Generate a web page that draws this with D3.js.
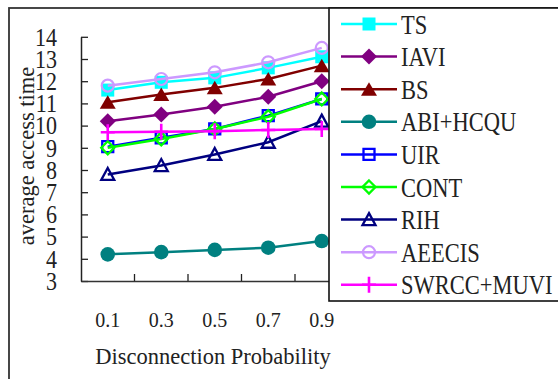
<!DOCTYPE html>
<html>
<head>
<meta charset="utf-8">
<script src="https://cdn.jsdelivr.net/npm/d3@7"></script>
<style>
  body { margin: 0; background: #fff; }
  svg { display: block; }
</style>
</head>
<body>
<svg id="chart" width="558" height="379"></svg>
<script>
// data
const categories = ["0.1", "0.3", "0.5", "0.7", "0.9"];
const yTicks = [3, 4, 5, 6, 7, 8, 9, 10, 11, 12, 13, 14];

const ts     = [11.6, 11.95, 12.15, 12.6, 13.1];
const iavi   = [10.2, 10.5, 10.85, 11.3, 12.0];
const bs     = [11.05, 11.4, 11.7, 12.1, 12.7];
const abi    = [4.2, 4.3, 4.4, 4.5, 4.8];
const uir    = [9.05, 9.45, 9.85, 10.45, 11.2];
const cont   = [9.0, 9.4, 9.85, 10.4, 11.2];
const rih    = [7.8, 8.2, 8.7, 9.25, 10.2];
const aeecis = [11.8, 12.1, 12.4, 12.85, 13.5];
const swrcc  = [9.7, 9.72, 9.75, 9.8, 9.85];

const series = [
  { name: "TS",         values: ts,     color: "#00FFFF", marker: "square",   fill: true },
  { name: "IAVI",       values: iavi,   color: "#800080", marker: "diamond",  fill: true },
  { name: "BS",         values: bs,     color: "#800000", marker: "triangle", fill: true },
  { name: "ABI+HCQU",   values: abi,    color: "#008080", marker: "circle",   fill: true },
  { name: "UIR",        values: uir,    color: "#0000FF", marker: "square",   fill: false },
  { name: "CONT",       values: cont,   color: "#00FF00", marker: "diamond",  fill: false },
  { name: "RIH",        values: rih,    color: "#000080", marker: "triangle", fill: false },
  { name: "AEECIS",     values: aeecis, color: "#CC99FF", marker: "circle",   fill: false },
  { name: "SWRCC+MUVI", values: swrcc,  color: "#FF00FF", marker: "plus",     fill: false }
];

const FONT = "'Liberation Serif', 'Times New Roman', 'DejaVu Serif', serif";
const INK = "#222";

const svg = d3.select("#chart");

const x = d3.scaleBand().domain(categories).range([81, 348.5]).padding(0);
const y = d3.scaleLinear().domain([3, 14]).range([281, 36.8]);

// outer frame
svg.append("rect")
  .attr("x", 9).attr("y", 8).attr("width", 620).attr("height", 420)
  .attr("fill", "#fff").attr("stroke", "#333").attr("stroke-width", 1.8);

function markerPath(type, fill) {
  if (type === "square") return fill ? "M-6.5,-6.5h13v13h-13Z" : "M-5.5,-5.5h11v11h-11Z";
  if (type === "diamond") return fill ? "M0,-8L8,0L0,8L-8,0Z" : "M0,-6.5L6.5,0L0,6.5L-6.5,0Z";
  if (type === "triangle") return fill ? "M0,-7L8,6.5L-8,6.5Z" : "M0,-6.5L6.5,5.5L-6.5,5.5Z";
  if (type === "plus") return "M-7,0H7M0,-8V8";
  return null;
}

function drawMarker(g, s, cx, cy) {
  if (s.marker === "circle") {
    g.append("circle")
      .attr("cx", cx).attr("cy", cy)
      .attr("r", s.fill ? 7.3 : 6)
      .attr("fill", s.fill ? s.color : "none")
      .attr("stroke", s.color)
      .attr("stroke-width", s.fill ? 0 : 2.2);
  } else {
    g.append("path")
      .attr("d", markerPath(s.marker, s.fill))
      .attr("transform", `translate(${cx},${cy})`)
      .attr("fill", s.fill ? s.color : "none")
      .attr("stroke", s.fill ? "none" : s.color)
      .attr("stroke-width", s.marker === "plus" ? 2.6 : 2.3);
  }
}

// y axis, ticks pointing inward
const yAxis = svg.append("g")
  .attr("transform", "translate(81,0)")
  .call(d3.axisLeft(y).tickValues(yTicks).tickSizeInner(-7).tickSizeOuter(0).tickPadding(24));
yAxis.attr("font-family", FONT);
yAxis.select(".domain").attr("stroke", INK).attr("stroke-width", 1.5);
yAxis.selectAll(".tick line").attr("stroke", INK).attr("stroke-width", 1.3);
yAxis.selectAll(".tick text")
  .attr("font-size", 22)
  .attr("dy", "0.33em")
  .attr("transform", "scale(1,1.14)")
  .attr("fill", INK);

// x axis: labels on band centres, ticks on band edges
const xAxis = svg.append("g")
  .attr("transform", "translate(0,281)")
  .call(d3.axisBottom(x).tickSize(0).tickSizeOuter(0));
xAxis.attr("font-family", FONT);
xAxis.select(".domain").attr("stroke", "#333").attr("stroke-width", 1.5);
xAxis.selectAll(".tick text")
  .attr("y", 46).attr("dy", 0)
  .attr("font-size", 20)
  .attr("fill", INK);
xAxis.selectAll(".edge")
  .data(categories)
  .join("line")
  .attr("class", "edge")
  .attr("x1", d => x(d) + x.bandwidth())
  .attr("x2", d => x(d) + x.bandwidth())
  .attr("y1", 0).attr("y2", -7)
  .attr("stroke", INK).attr("stroke-width", 1.3);

// axis titles
svg.append("text")
  .attr("transform", "translate(34,156) rotate(-90)")
  .attr("text-anchor", "middle")
  .attr("font-family", FONT)
  .attr("font-size", 22.5)
  .attr("fill", INK)
  .text("average access time");

svg.append("text")
  .attr("x", 213).attr("y", 364)
  .attr("text-anchor", "middle")
  .attr("font-family", FONT)
  .attr("font-size", 22.5)
  .attr("fill", INK)
  .text("Disconnection Probability");

// series
const line = d3.line()
  .x((d, i) => x(categories[i]) + x.bandwidth() / 2)
  .y(d => y(d));

series.forEach(s => {
  const g = svg.append("g");
  g.append("path")
    .attr("d", line(s.values))
    .attr("fill", "none")
    .attr("stroke", s.color)
    .attr("stroke-width", 2.5);
  s.values.forEach((v, i) => {
    drawMarker(g, s, x(categories[i]) + x.bandwidth() / 2, y(v));
  });
});

// legend
const legend = svg.append("g");
legend.append("rect")
  .attr("x", 329).attr("y", 8).attr("width", 300).attr("height", 293)
  .attr("fill", "#fff").attr("stroke", "#111").attr("stroke-width", 1.6);

series.forEach((s, i) => {
  const ly = 24 + i * 32.6;
  const g = legend.append("g");
  g.append("line")
    .attr("x1", 341).attr("x2", 397)
    .attr("y1", ly).attr("y2", ly)
    .attr("stroke", s.color).attr("stroke-width", 2.5);
  drawMarker(g, s, 369, ly);
  g.append("g")
    .attr("transform", `translate(401,${ly + 9.5}) scale(1,1.2)`)
    .append("text")
    .attr("font-family", FONT)
    .attr("font-size", 22.5)
    .attr("fill", INK)
    .text(s.name);
});
</script>
</body>
</html>
